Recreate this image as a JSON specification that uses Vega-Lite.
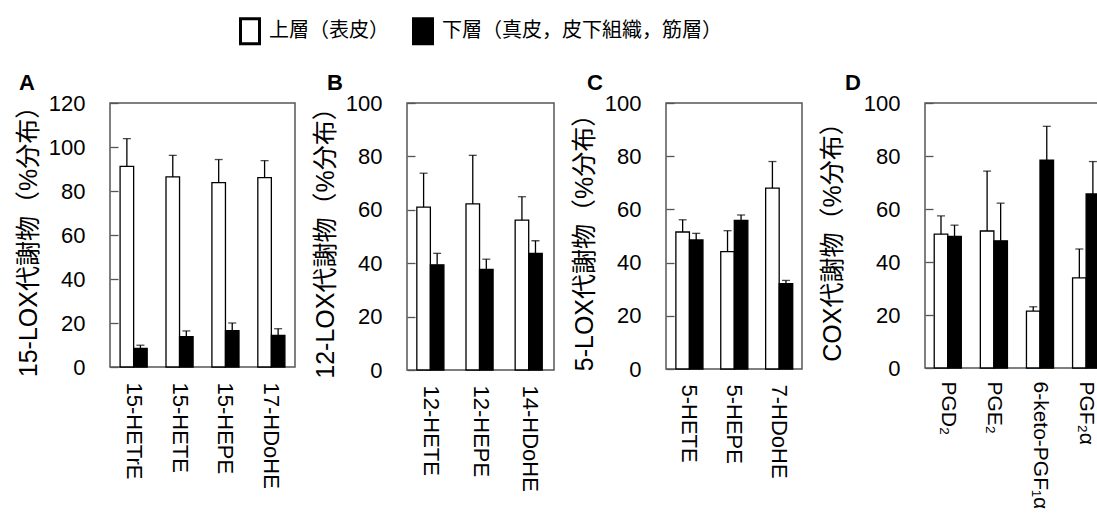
{
  "$schema": "https://vega.github.io/schema/vega-lite/v6.json",
  "background": "white",
  "padding": {"left": 15, "top": 17, "right": -12, "bottom": 0},
  "config": {
    "view": {"stroke": "#555", "strokeWidth": 1.5},
    "axisX": {"domain": false, "ticks": false, "labelAngle": 90, "labelPadding": 15, "labelFont": "Liberation Sans", "labelFontSize": 22, "labelColor": "black", "title": null},
    "axisY": {"domain": false, "grid": false, "tickSize": -8, "tickColor": "#555", "tickWidth": 1.3, "labelPadding": 33, "labelFont": "Liberation Sans", "labelFontSize": 22, "labelColor": "black", "titleFont": "Liberation Sans, Noto Sans CJK JP", "titleFontSize": 25, "titleFontWeight": "normal", "titleColor": "black", "titlePadding": 7},
    "title": {"font": "Liberation Sans", "fontSize": 22, "fontWeight": "bold", "color": "black", "anchor": "start", "frame": "group", "offset": -3}
  },
  "datasets": {
    "d": [
      {"panel": "A", "analyte": "15-HETrE", "layer": "上層（表皮）", "value": 91.2, "hi": 103.8},
      {"panel": "A", "analyte": "15-HETrE", "layer": "下層（真皮，皮下組織，筋層）", "value": 8.5, "hi": 9.9},
      {"panel": "A", "analyte": "15-HETE", "layer": "上層（表皮）", "value": 86.4, "hi": 96.2},
      {"panel": "A", "analyte": "15-HETE", "layer": "下層（真皮，皮下組織，筋層）", "value": 13.8, "hi": 16.4},
      {"panel": "A", "analyte": "15-HEPE", "layer": "上層（表皮）", "value": 83.8, "hi": 94.3},
      {"panel": "A", "analyte": "15-HEPE", "layer": "下層（真皮，皮下組織，筋層）", "value": 16.5, "hi": 20.0},
      {"panel": "A", "analyte": "17-HDoHE", "layer": "上層（表皮）", "value": 86.1, "hi": 93.8},
      {"panel": "A", "analyte": "17-HDoHE", "layer": "下層（真皮，皮下組織，筋層）", "value": 14.4, "hi": 17.4},
      {"panel": "B", "analyte": "12-HETE", "layer": "上層（表皮）", "value": 61.0, "hi": 73.7},
      {"panel": "B", "analyte": "12-HETE", "layer": "下層（真皮，皮下組織，筋層）", "value": 39.4, "hi": 43.7},
      {"panel": "B", "analyte": "12-HEPE", "layer": "上層（表皮）", "value": 62.2, "hi": 80.4},
      {"panel": "B", "analyte": "12-HEPE", "layer": "下層（真皮，皮下組織，筋層）", "value": 37.7, "hi": 41.5},
      {"panel": "B", "analyte": "14-HDoHE", "layer": "上層（表皮）", "value": 56.1, "hi": 64.9},
      {"panel": "B", "analyte": "14-HDoHE", "layer": "下層（真皮，皮下組織，筋層）", "value": 43.7, "hi": 48.4},
      {"panel": "C", "analyte": "5-HETE", "layer": "上層（表皮）", "value": 51.5, "hi": 56.1},
      {"panel": "C", "analyte": "5-HETE", "layer": "下層（真皮，皮下組織，筋層）", "value": 48.5, "hi": 51.0},
      {"panel": "C", "analyte": "5-HEPE", "layer": "上層（表皮）", "value": 44.1, "hi": 52.0},
      {"panel": "C", "analyte": "5-HEPE", "layer": "下層（真皮，皮下組織，筋層）", "value": 55.9, "hi": 57.9},
      {"panel": "C", "analyte": "7-HDoHE", "layer": "上層（表皮）", "value": 68.0, "hi": 78.0},
      {"panel": "C", "analyte": "7-HDoHE", "layer": "下層（真皮，皮下組織，筋層）", "value": 32.1, "hi": 33.3},
      {"panel": "D", "analyte": "PGD₂", "layer": "上層（表皮）", "value": 50.5, "hi": 57.4},
      {"panel": "D", "analyte": "PGD₂", "layer": "下層（真皮，皮下組織，筋層）", "value": 49.7, "hi": 53.9},
      {"panel": "D", "analyte": "PGE₂", "layer": "上層（表皮）", "value": 51.7, "hi": 74.3},
      {"panel": "D", "analyte": "PGE₂", "layer": "下層（真皮，皮下組織，筋層）", "value": 48.0, "hi": 62.2},
      {"panel": "D", "analyte": "6-keto-PGF₁α", "layer": "上層（表皮）", "value": 21.5, "hi": 23.1},
      {"panel": "D", "analyte": "6-keto-PGF₁α", "layer": "下層（真皮，皮下組織，筋層）", "value": 78.4, "hi": 91.2},
      {"panel": "D", "analyte": "PGF₂α", "layer": "上層（表皮）", "value": 34.0, "hi": 44.9},
      {"panel": "D", "analyte": "PGF₂α", "layer": "下層（真皮，皮下組織，筋層）", "value": 65.7, "hi": 77.9}
    ]
  },
  "data": {"name": "d"},
  "spacing": 16,
  "hconcat": [
    {
      "width": 185, "height": 264,
      "title": {"text": "A", "dx": -91},
      "transform": [{"filter": "datum.panel === 'A'"}],
      "encoding": {
        "x": {"field": "analyte", "type": "nominal", "sort": null, "scale": {"paddingInner": 0.41, "paddingOuter": 0.22}},
        "xOffset": {"field": "layer", "type": "nominal", "sort": null}
      },
      "layer": [
        {"mark": {"type": "bar", "stroke": "black", "strokeWidth": 1.3},
         "encoding": {
           "y": {"field": "value", "type": "quantitative", "scale": {"domain": [0, 120]}, "axis": {"values": [0, 20, 40, 60, 80, 100, 120], "title": "15-LOX代謝物（%分布）"}},
           "color": {"field": "layer", "type": "nominal", "sort": null,
             "scale": {"domain": ["上層（表皮）", "下層（真皮，皮下組織，筋層）"], "range": ["white", "black"]},
             "legend": {"orient": "none", "legendX": 126, "legendY": -86, "direction": "horizontal", "title": null, "padding": 0,
               "symbolType": "M-0.76,-1L0.76,-1L0.76,1L-0.76,1Z", "symbolSize": 625, "symbolStrokeWidth": 3, "symbolStrokeColor": "black",
               "labelFont": "Noto Sans CJK JP", "labelFontSize": 20, "labelColor": "black", "labelOffset": 5, "columnPadding": 18, "labelLimit": 400}}
         }},
        {"mark": {"type": "rule", "color": "black", "strokeWidth": 1.3},
         "encoding": {"y": {"field": "value", "type": "quantitative"}, "y2": {"field": "hi"}}},
        {"mark": {"type": "tick", "color": "black", "size": 8, "thickness": 1.3},
         "encoding": {"y": {"field": "hi", "type": "quantitative"}}}
      ]
    },
    {
      "width": 147, "height": 267,
      "title": {"text": "B", "dx": -80},
      "transform": [{"filter": "datum.panel === 'B'"}],
      "encoding": {
        "x": {"field": "analyte", "type": "nominal", "sort": null, "scale": {"paddingInner": 0.41, "paddingOuter": 0.2}},
        "xOffset": {"field": "layer", "type": "nominal", "sort": null}
      },
      "layer": [
        {"mark": {"type": "bar", "stroke": "black", "strokeWidth": 1.3},
         "encoding": {
           "y": {"field": "value", "type": "quantitative", "scale": {"domain": [0, 100]}, "axis": {"values": [0, 20, 40, 60, 80, 100], "title": "12-LOX代謝物（%分布）"}},
           "color": {"field": "layer", "type": "nominal", "sort": null}
         }},
        {"mark": {"type": "rule", "color": "black", "strokeWidth": 1.3},
         "encoding": {"y": {"field": "value", "type": "quantitative"}, "y2": {"field": "hi"}}},
        {"mark": {"type": "tick", "color": "black", "size": 8, "thickness": 1.3},
         "encoding": {"y": {"field": "hi", "type": "quantitative"}}}
      ]
    },
    {
      "width": 136, "height": 266,
      "title": {"text": "C", "dx": -79},
      "transform": [{"filter": "datum.panel === 'C'"}],
      "encoding": {
        "x": {"field": "analyte", "type": "nominal", "sort": null, "scale": {"paddingInner": 0.41, "paddingOuter": 0.22}},
        "xOffset": {"field": "layer", "type": "nominal", "sort": null}
      },
      "layer": [
        {"mark": {"type": "bar", "stroke": "black", "strokeWidth": 1.3},
         "encoding": {
           "y": {"field": "value", "type": "quantitative", "scale": {"domain": [0, 100]}, "axis": {"values": [0, 20, 40, 60, 80, 100], "title": "5-LOX代謝物（%分布）"}},
           "color": {"field": "layer", "type": "nominal", "sort": null}
         }},
        {"mark": {"type": "rule", "color": "black", "strokeWidth": 1.3},
         "encoding": {"y": {"field": "value", "type": "quantitative"}, "y2": {"field": "hi"}}},
        {"mark": {"type": "tick", "color": "black", "size": 8, "thickness": 1.3},
         "encoding": {"y": {"field": "hi", "type": "quantitative"}}}
      ]
    },
    {
      "width": 184, "height": 265,
      "title": {"text": "D", "dx": -80},
      "transform": [{"filter": "datum.panel === 'D'"}],
      "encoding": {
        "x": {"field": "analyte", "type": "nominal", "sort": null, "scale": {"paddingInner": 0.41, "paddingOuter": 0.2}, "axis": {"labelFontSize": 21, "labelPadding": 13}},
        "xOffset": {"field": "layer", "type": "nominal", "sort": null}
      },
      "layer": [
        {"mark": {"type": "bar", "stroke": "black", "strokeWidth": 1.3},
         "encoding": {
           "y": {"field": "value", "type": "quantitative", "scale": {"domain": [0, 100]}, "axis": {"values": [0, 20, 40, 60, 80, 100], "title": "COX代謝物（%分布）", "titlePadding": 18}},
           "color": {"field": "layer", "type": "nominal", "sort": null}
         }},
        {"mark": {"type": "rule", "color": "black", "strokeWidth": 1.3},
         "encoding": {"y": {"field": "value", "type": "quantitative"}, "y2": {"field": "hi"}}},
        {"mark": {"type": "tick", "color": "black", "size": 8, "thickness": 1.3},
         "encoding": {"y": {"field": "hi", "type": "quantitative"}}}
      ]
    }
  ]
}
